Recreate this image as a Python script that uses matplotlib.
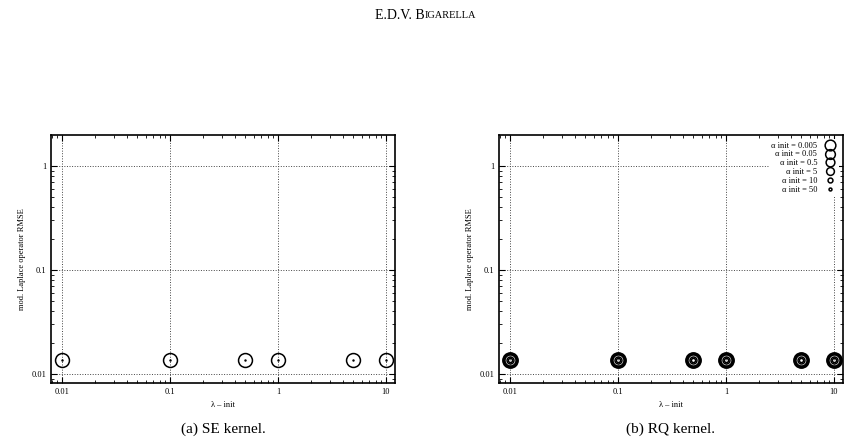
import matplotlib
matplotlib.use('Agg')
import matplotlib.pyplot as plt
import numpy as np

lam = [0.01, 0.1, 0.5, 1, 5, 10]
se_rmse = [0.0136, 0.0136, 0.0136, 0.0136, 0.0136, 0.0136]
alphas = ['0.005', '0.05', '0.5', '5', '10', '50']
rq_rmse = [0.0136, 0.0136, 0.0136, 0.0136, 0.0136, 0.0136]
sizes = [11, 10, 9, 8, 5, 3]

plt.rcParams['font.family'] = ['Liberation Serif', 'DejaVu Serif']
fig = plt.figure(figsize=(8.49, 4.47), dpi=100)
fig.text(0.5, 0.965, 'E.D.V. B', ha='right', va='center', fontsize=10)
fig.text(0.5, 0.965, 'IGARELLA', ha='left', va='center', fontsize=7.5)

W, H = 849, 447
def mk(x0, x1):
    return fig.add_axes([x0 / W, 1 - 383 / H, (x1 - x0) / W, (383 - 135) / H])

axes = [mk(51, 395), mk(499, 843)]
for i, ax in enumerate(axes):
    ax.set_xscale('log'); ax.set_yscale('log')
    ax.set_xlim(0.01 * 10 ** (-11 / 108), 10 * 10 ** (9 / 108))
    ax.set_ylim(0.01 * 10 ** (-9 / 104), 10 ** (31 / 104))
    ax.set_xticks([0.01, 0.1, 1, 10]); ax.set_xticklabels(['0.01', '0.1', '1', '10'])
    ax.set_yticks([0.01, 0.1, 1]); ax.set_yticklabels(['0.01', '0.1', '1'])
    ax.tick_params(which='both', direction='in', top=True, right=True, labelsize=6)
    ax.tick_params(which='major', length=4)
    ax.tick_params(which='minor', length=2)
    ax.grid(True, which='major', color='#444444', linestyle=':', linewidth=0.7)
    for s in ax.spines.values():
        s.set_linewidth(1.2)
    ax.set_xlabel('λ – init', fontsize=6)
    ax.set_ylabel('mod. Laplace operator RMSE', fontsize=6)
    ax.text(0.5, -0.16, '(a) SE kernel.' if i == 0 else '(b) RQ kernel.',
            transform=ax.transAxes, ha='center', va='top', fontsize=11)

axes[0].plot(lam, se_rmse, 'o', ms=10, mfc='none', mec='black', mew=1.1, ls='none')
axes[0].plot(lam, se_rmse, '.', ms=1.5, color='black', ls='none')

ax = axes[1]
for a, s in zip(alphas, sizes):
    ax.plot(lam, rq_rmse, 'o', ms=s, mfc='none', mec='black', mew=1.1, ls='none',
            label=f'α init = {a}')
leg = ax.legend(loc='upper right', fontsize=6, frameon=True, handletextpad=0.8,
                labelspacing=0.1, markerfirst=False, borderpad=0.3, markerscale=0.7,
                handlelength=1.5)
leg.get_frame().set_facecolor('white'); leg.get_frame().set_edgecolor('none'); leg.get_frame().set_alpha(1)

fig.savefig('out.png', dpi=100)
